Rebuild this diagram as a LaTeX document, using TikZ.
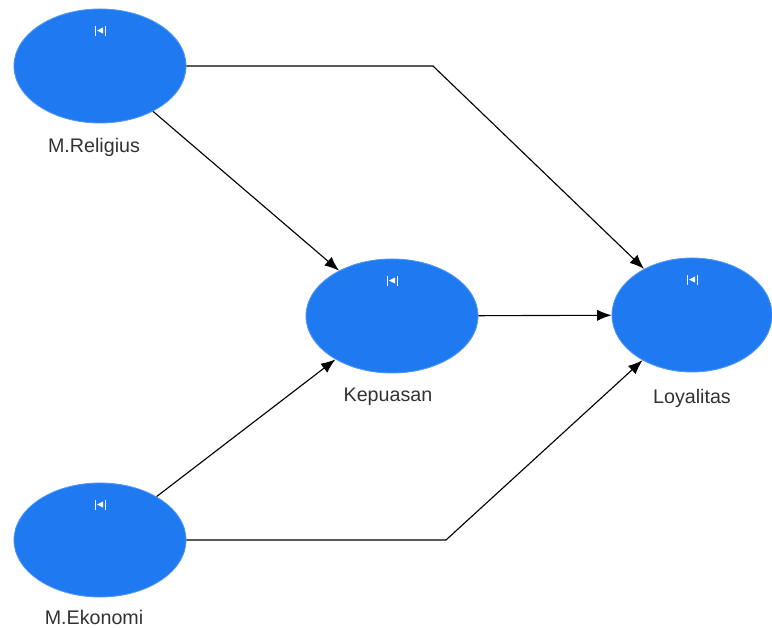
\documentclass[tikz,border=0pt]{standalone}
\usepackage{fontspec}
\setmainfont{Liberation Sans}
\usetikzlibrary{shapes.geometric,arrows.meta}
\definecolor{lvblue}{RGB}{31,122,242}
\definecolor{lvedge}{RGB}{80,150,245}
\definecolor{lvtext}{RGB}{50,50,50}
\tikzset{
    latent/.style={ellipse, draw=lvedge, line width=0.6pt, fill=lvblue,
        minimum width=4.3cm, minimum height=2.85cm, inner sep=0pt},
    lbl/.style={text=lvtext, font=\fontsize{14}{16}\selectfont},
    path/.style={line width=0.8pt, -{Latex[length=3.6mm,width=2.8mm]}}
}
\begin{document}
\begin{tikzpicture}[x=0.025cm, y=-0.025cm]
        \useasboundingbox (0, 0) rectangle (772, 629);

        \node[latent] (rel) at (100, 66) {};
        \node[latent] (kep) at (392, 316) {};
        \node[latent, minimum width=4.0cm] (loy) at (692, 315) {};
        \node[latent] (eko) at (100, 540) {};

        \node[lbl] (relL) at (94, 147) {M.Religius};
        \node[lbl] (kepL) at (388, 397) {Kepuasan};
        \node[lbl] (loyL) at (692, 398) {Loyalitas};
        \node[lbl] (ekoL) at (94, 617) {M.Ekonomi};

        % small icon on top of each construct
        \foreach \n in {rel, kep, loy, eko} {
            \begin{scope}[shift={(\n.north)}]
                \draw[white, line width=0.5pt] (-5, 17) -- (-5, 27) (5, 17) -- (5, 27);
                \fill[white] (-3, 22) -- (3, 19) -- (3, 25) -- cycle;
            \end{scope}
        }

        \coordinate (b1) at (433, 66);
        \coordinate (b2) at (446, 540);

        \draw[path] (rel.east) -- (b1) -- (loy);
        \draw[path] (rel) -- (kep);
        \draw[path] (kep) -- (loy);
        \draw[path] (eko) -- (kep);
        \draw[path] (eko.east) -- (b2) -- (loy);

    \end{tikzpicture}
\end{document}
